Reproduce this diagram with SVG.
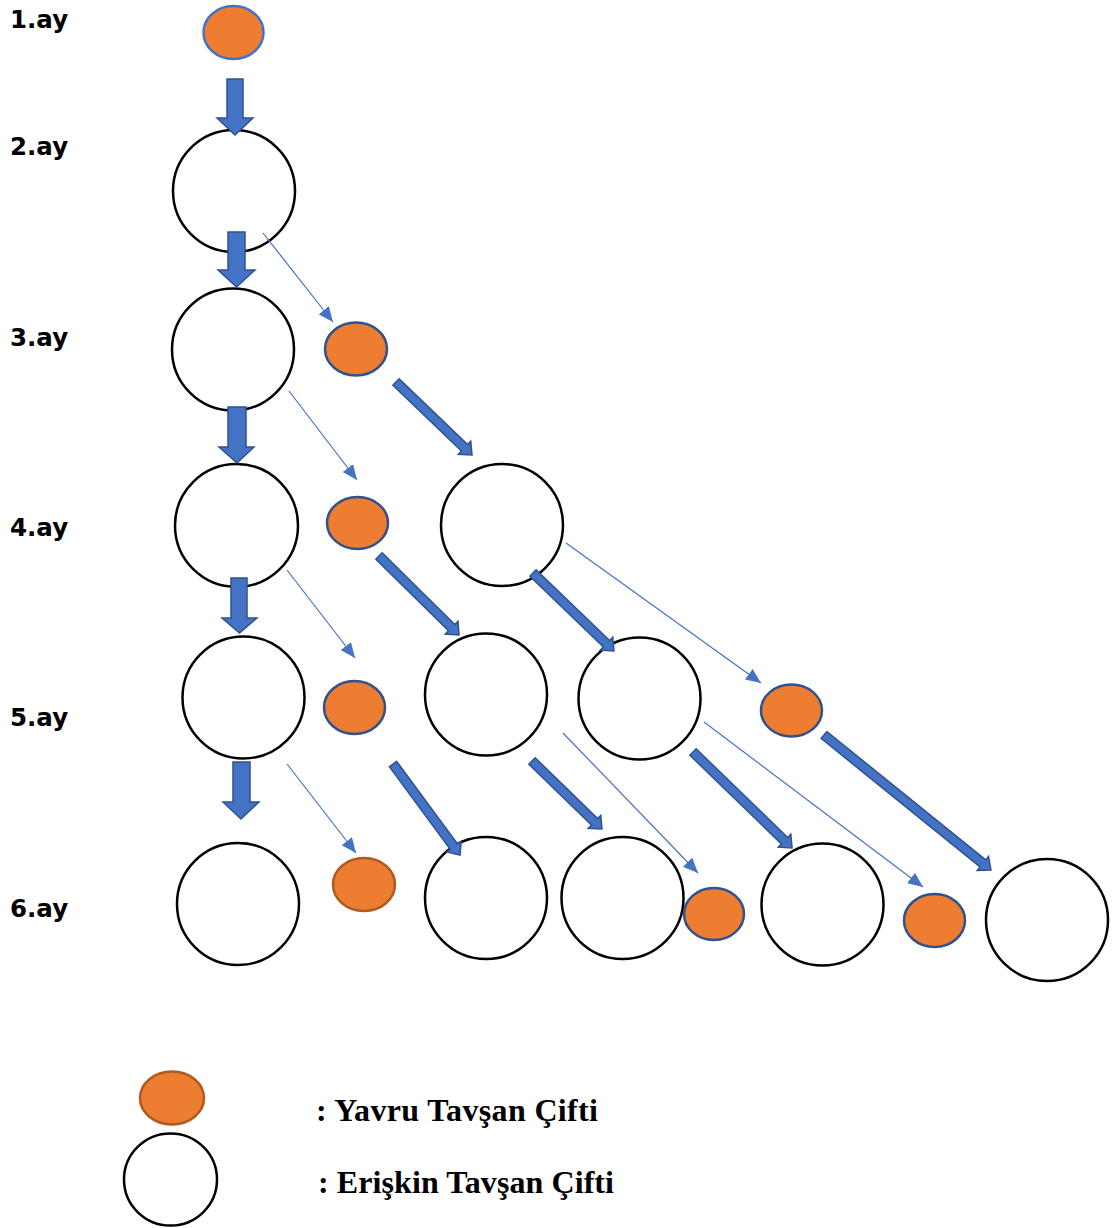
<svg xmlns="http://www.w3.org/2000/svg" width="1113" height="1228" viewBox="0 0 1113 1228">
  <style>
    .month { font-family: "DejaVu Sans", Verdana, sans-serif; font-weight: bold; font-size: 24.5px; fill: #000; }
    .legend { font-family: "Liberation Serif", "Times New Roman", serif; font-weight: bold; font-size: 32px; fill: #000; }
    .adult { fill: #fff; stroke: #000; stroke-width: 2.5; }
    .young { fill: #ED7D31; stroke: #2F528F; stroke-width: 2.5; }
    .young-first { fill: #ED7D31; stroke: #4472C4; stroke-width: 2.5; }
    .young-brown { fill: #ED7D31; stroke: #AE5A21; stroke-width: 2.5; }
    .block { fill: #4472C4; stroke: #2F528F; stroke-width: 1.5; stroke-linejoin: miter; }
    .thin { stroke: #4472C4; stroke-width: 1.2; fill: none; marker-end: url(#tri); }
  </style>
  <defs>
    <marker id="tri" markerUnits="userSpaceOnUse" markerWidth="16" markerHeight="14" refX="15" refY="6.5" orient="auto">
      <path d="M0,0 L15,6.5 L0,13 Z" fill="#4472C4"/>
    </marker>
  </defs>
  <rect width="1113" height="1228" fill="#fff"/>

  <!-- month labels -->
  <g id="labels">
    <text class="month" x="10" y="28">1.ay</text>
    <text class="month" x="10" y="155">2.ay</text>
    <text class="month" x="10" y="346">3.ay</text>
    <text class="month" x="10" y="536">4.ay</text>
    <text class="month" x="10" y="726">5.ay</text>
    <text class="month" x="10" y="917">6.ay</text>
  </g>

  <!-- month 1 -->
  <g id="m1-young"><ellipse class="young-first" cx="233.5" cy="32.5" rx="30" ry="26.5"/></g>
  <!-- month 2 -->
  <g id="m2-adult"><circle class="adult" cx="234" cy="191" r="61"/></g>
  <!-- month 3 -->
  <g id="m3-adult"><circle class="adult" cx="233" cy="349.5" r="61"/></g>
  <g id="m3-young"><ellipse class="young" cx="356" cy="349" rx="31" ry="26.5"/></g>
  <!-- month 4 -->
  <g id="m4-adult-a"><circle class="adult" cx="236.5" cy="525.5" r="61.5"/></g>
  <g id="m4-young"><ellipse class="young" cx="357.5" cy="523" rx="30.5" ry="26"/></g>
  <g id="m4-adult-b"><circle class="adult" cx="502" cy="525" r="61"/></g>
  <!-- month 5 -->
  <g id="m5-adult-a"><circle class="adult" cx="243.5" cy="697.5" r="61"/></g>
  <g id="m5-young-a"><ellipse class="young" cx="354.5" cy="707.5" rx="30.5" ry="26.5"/></g>
  <g id="m5-adult-b"><circle class="adult" cx="486" cy="694.5" r="61"/></g>
  <g id="m5-adult-c"><circle class="adult" cx="639.5" cy="698.5" r="61"/></g>
  <g id="m5-young-b"><ellipse class="young" cx="791.5" cy="710.5" rx="30.5" ry="26"/></g>
  <!-- month 6 -->
  <g id="m6-adult-a"><circle class="adult" cx="238" cy="904" r="61"/></g>
  <g id="m6-young-a"><ellipse class="young-brown" cx="364" cy="884.5" rx="31" ry="26.5"/></g>
  <g id="m6-adult-b"><circle class="adult" cx="486" cy="898" r="61"/></g>
  <g id="m6-adult-c"><circle class="adult" cx="622.5" cy="898" r="61"/></g>
  <g id="m6-young-b"><ellipse class="young" cx="714" cy="914" rx="30" ry="26"/></g>
  <g id="m6-adult-d"><circle class="adult" cx="822.5" cy="904.5" r="61"/></g>
  <g id="m6-young-c"><ellipse class="young" cx="934.5" cy="920.5" rx="30.5" ry="26.5"/></g>
  <g id="m6-adult-e"><circle class="adult" cx="1047" cy="920" r="61"/></g>

  <!-- connectors: block arrows (ageing / survival) and thin arrows (birth), drawn over the nodes -->
  <g id="connectors">
    <!-- vertical block arrows down the first column -->
    <polygon class="block" points="227,79 243,79 243,118 253,118 235,135 217,118 227,118"/>
    <polygon class="block" points="228,232 245,232 245,270 255,270 236.5,287 218,270 228,270"/>
    <polygon class="block" points="228,407 246,407 246,447 254,447 237,463 219,447 228,447"/>
    <polygon class="block" points="231,578 247,578 247,618 257,618 239.5,633 222,618 231,618"/>
    <polygon class="block" points="233,762 250,762 250,802 259,802 241,819 223,802 233,802"/>

    <!-- diagonal block arrows, drawn along +x then rotated -->
    <polygon class="block" transform="translate(396,382) rotate(43.85)" points="0,-4.5 95,-4.5 95,-9 105.4,0 95,9 95,4.5 0,4.5"/>
    <polygon class="block" transform="translate(379,556) rotate(44.6)" points="0,-4.5 102,-4.5 102,-9 112.4,0 102,9 102,4.5 0,4.5"/>
    <polygon class="block" transform="translate(533,573) rotate(43.9)" points="0,-4.5 102,-4.5 102,-9 112.4,0 102,9 102,4.5 0,4.5"/>
    <polygon class="block" transform="translate(393,764) rotate(53.6)" points="0,-4.5 102.6,-4.5 102.6,-9 113,0 102.6,9 102.6,4.5 0,4.5"/>
    <polygon class="block" transform="translate(532,761) rotate(44.2)" points="0,-4.5 87.2,-4.5 87.2,-9 97.6,0 87.2,9 87.2,4.5 0,4.5"/>
    <polygon class="block" transform="translate(693,752) rotate(44.1)" points="0,-4.5 127.5,-4.5 127.5,-9 137.9,0 127.5,9 127.5,4.5 0,4.5"/>
    <polygon class="block" transform="translate(824,735) rotate(38.95)" points="0,-4.5 204.3,-4.5 204.3,-9 214.7,0 204.3,9 204.3,4.5 0,4.5"/>

    <!-- thin birth arrows -->
    <line class="thin" x1="263" y1="233" x2="333" y2="322"/>
    <line class="thin" x1="289" y1="391" x2="357" y2="480"/>
    <line class="thin" x1="287" y1="570" x2="355" y2="658"/>
    <line class="thin" x1="287" y1="764" x2="356" y2="853"/>
    <line class="thin" x1="566" y1="543" x2="761" y2="683"/>
    <line class="thin" x1="563" y1="733" x2="698" y2="873"/>
    <line class="thin" x1="704" y1="722" x2="923" y2="887"/>
  </g>

  <!-- legend -->
  <g id="legend-young">
    <ellipse class="young-brown" cx="172" cy="1098" rx="32" ry="26.5"/>
    <text class="legend" x="316" y="1121" textLength="282" lengthAdjust="spacing">: Yavru Tavşan Çifti</text>
  </g>
  <g id="legend-adult">
    <ellipse class="adult" cx="170.5" cy="1179.5" rx="46.5" ry="46"/>
    <text class="legend" x="318" y="1193" textLength="296" lengthAdjust="spacing">: Erişkin Tavşan Çifti</text>
  </g>
</svg>
